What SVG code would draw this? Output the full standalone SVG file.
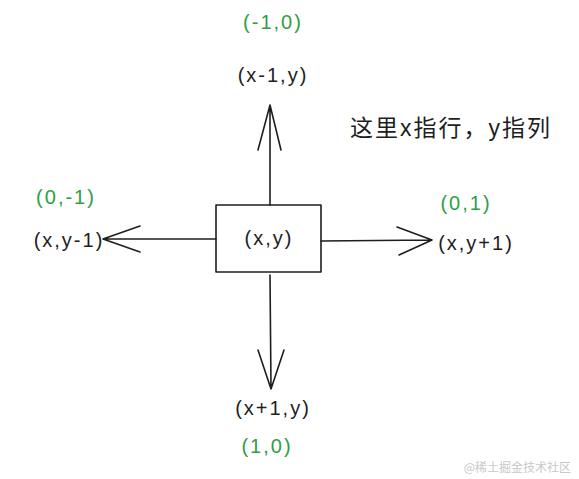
<svg xmlns="http://www.w3.org/2000/svg" width="579" height="479" viewBox="0 0 579 479">
<style>
.t{font-family:"Liberation Sans","Noto Sans CJK SC",sans-serif;font-size:20px;letter-spacing:2px;text-anchor:middle;fill:#1e1e1e}
.g{fill:#2f9e44}
.ln{stroke:#1e1e1e;stroke-width:1.6;fill:none;stroke-linecap:round;stroke-linejoin:round}
</style>
<rect width="579" height="479" fill="#ffffff"/>
<g id="connectors">
<path class="ln" d="M270,205 L270,105 M258,150 L270,105 L281,150"/>
<path class="ln" d="M216,239 L103,239 M140,226 L103,239 L140,252"/>
<path class="ln" d="M321,241 L432,240 M397,227 L432,240 L399,255"/>
<path class="ln" d="M270,275 L271,389 M258,350 L271,389 L284,350"/>
</g>
<g id="center">
<rect x="216" y="205" width="105" height="67" class="ln"/>
<text class="t" x="269" y="245">(x,y)</text>
</g>
<g id="up">
<text class="t g" x="273" y="29">(-1,0)</text>
<text class="t" x="273" y="82">(x-1,y)</text>
</g>
<g id="left">
<text class="t g" x="66" y="204">(0,-1)</text>
<text class="t" x="69" y="247">(x,y-1)</text>
</g>
<g id="right">
<text class="t g" x="466" y="210">(0,1)</text>
<text class="t" x="476" y="250">(x,y+1)</text>
</g>
<g id="down">
<text class="t" x="273" y="415">(x+1,y)</text>
<text class="t g" x="267" y="453">(1,0)</text>
</g>
<g id="note">
<text class="t" x="451" y="136" style="font-size:23px;letter-spacing:2px">这里x指行，y指列</text>
</g>
<text x="571" y="472" style="font-family:'Noto Sans CJK SC',sans-serif;font-size:12px;fill:#c8c8c8;text-anchor:end">@稀土掘金技术社区</text>
</svg>
